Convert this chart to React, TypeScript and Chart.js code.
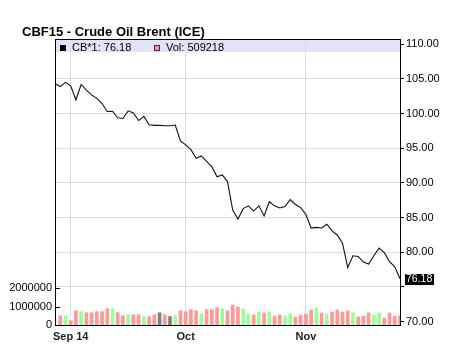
import React, { useEffect, useRef } from 'react';
import { Chart, registerables } from 'chart.js';

Chart.register(...registerables);

const title = 'CBF15 - Crude Oil Brent (ICE)';
const seriesName = 'CB*1';
const volumeName = 'Vol';
const lastPrice = 76.18;
const lastVolume = 509218;

const categories = [
  '', '', '', 'Sep 14', '', '', '', '', '', '',
  '', '', '', '', '', '', '', '', '', '',
  '', '', '', '', '', 'Oct', '', '', '', '',
  '', '', '', '', '', '', '', '', '', '',
  '', '', '', '', '', '', '', '', 'Nov', '',
  '', '', '', '', '', '', '', '', '', '',
  '', '', '', '', '', '', '',
];

const price = [
  104.3, 103.9, 104.5, 104.0, 102.0, 104.2, 103.4, 102.7, 102.2, 101.45,
  100.3, 100.35, 99.4, 99.3, 100.4, 100.1, 99.0, 99.6, 98.4, 98.3,
  98.3, 98.25, 98.25, 98.35, 96.05, 95.5, 94.8, 93.55, 93.9, 93.1,
  92.35, 90.9, 91.15, 90.2, 86.1, 84.8, 86.3, 86.7, 85.95, 86.7,
  85.25, 87.3, 86.7, 86.4, 86.6, 87.6, 86.9, 86.45, 85.45, 83.5,
  83.6, 83.5, 84.05, 83.1, 82.5, 81.3, 77.8, 79.5, 79.4, 78.6,
  78.3, 79.5, 80.6, 79.95, 78.65, 77.9, 76.18,
];

const volume: (number | null)[] = [
  null,
  510000, 510000, 240000, 780000, 730000, 670000, 670000, 730000, 730000, 890000,
  890000, 670000, 510000, 560000, 560000, 560000, 460000, 460000, 560000, 670000,
  560000, 460000, 510000, 780000, 730000, 840000, 780000, 620000, 840000, 840000,
  950000, 890000, 780000, 1090000, 980000, 870000, 600000, 550000, 710000, 660000,
  710000, 490000, 550000, 490000, 600000, 440000, 550000, 600000, 820000, 930000,
  660000, 600000, 710000, 820000, 710000, 760000, 660000, 440000, 490000, 660000,
  550000, 660000, 380000, 660000, 490000, 509218,
];

const priceTicks = [70, 75, 80, 85, 90, 95, 100, 105, 110];
const volumeTicks = [0, 1000000, 2000000];

const FONT = '"Liberation Sans", Arial, Helvetica, sans-serif';

export default function App() {
  const ref = useRef<HTMLCanvasElement>(null);

  useEffect(() => {
    const canvas = ref.current;
    if (!canvas) return;

    const barColors = volume.map((v, i) => {
      if (i === 0 || v == null) return 'transparent';
      const d = price[i] - price[i - 1];
      if (d > 0.001) return '#99ff99';
      if (d < -0.001) return '#ff9999';
      return '#808080';
    });

    const overlay = {
      id: 'overlay',
      beforeDraw(chart: any) {
        const { ctx, chartArea: a } = chart;
        ctx.save();
        ctx.fillStyle = '#ffffff';
        ctx.fillRect(0, 0, chart.width, chart.height);
        ctx.fillStyle = '#e2e2f8';
        ctx.fillRect(a.left, a.top, a.right - a.left, 13);
        ctx.restore();
      },
      afterDatasetsDraw(chart: any) {
        const { ctx, chartArea: a, scales } = chart;
        ctx.save();
        ctx.strokeStyle = '#000';
        ctx.lineWidth = 1;
        ctx.strokeRect(a.left + 0.5, a.top + 0.5, a.right - a.left, a.bottom - a.top);

        const yv = scales.yv;
        ctx.beginPath();
        volumeTicks.forEach((t) => {
          const y = Math.round(yv.getPixelForValue(t)) + 0.5;
          ctx.moveTo(a.left, y);
          ctx.lineTo(a.left + 5, y);
        });
        ctx.stroke();

        ctx.fillStyle = '#000';
        ctx.font = 'bold 13px ' + FONT;
        ctx.textBaseline = 'alphabetic';
        ctx.textAlign = 'left';
        ctx.fillText(title, 22, 36);

        ctx.font = '11px ' + FONT;
        ctx.fillStyle = '#000';
        ctx.fillRect(60, 45, 6, 6);
        ctx.fillText(seriesName + ': ' + lastPrice.toFixed(2), 72, 51);
        ctx.fillStyle = '#ff9999';
        ctx.fillRect(154, 45, 6, 6);
        ctx.strokeStyle = '#333';
        ctx.strokeRect(154.5, 45.5, 5, 5);
        ctx.fillStyle = '#000';
        ctx.fillText(volumeName + ': ' + String(lastVolume), 166, 51);

        const y = Math.round(scales.y.getPixelForValue(lastPrice));
        ctx.font = '10.5px ' + FONT;
        const w = ctx.measureText(lastPrice.toFixed(2)).width;
        ctx.fillStyle = '#000';
        ctx.fillRect(405, y - 5, Math.ceil(w) + 2, 11);
        ctx.fillStyle = '#fff';
        ctx.textBaseline = 'middle';
        ctx.fillText(lastPrice.toFixed(2), 406, y + 0.5);
        ctx.restore();
      },
    };

    const chart = new Chart(canvas, {
      type: 'bar',
      data: {
        labels: categories,
        datasets: [
          {
            type: 'line',
            label: seriesName,
            data: price,
            yAxisID: 'y',
            borderColor: '#111',
            borderWidth: 1.1,
            pointRadius: 0,
            tension: 0,
            order: 0,
          } as any,
          {
            type: 'bar',
            label: volumeName,
            data: volume,
            yAxisID: 'yv',
            backgroundColor: barColors,
            barThickness: 3,
            order: 1,
          } as any,
        ],
      },
      options: {
        responsive: false,
        devicePixelRatio: 1,
        animation: false,
        layout: { padding: { top: 39, left: 0, right: 0, bottom: 0 } },
        plugins: { legend: { display: false }, tooltip: { enabled: false }, title: { display: false } },
        scales: {
          x: {
            type: 'category',
            offset: false,
            border: { display: false },
            grid: {
              offset: false,
              drawTicks: false,
              tickLength: 0,
              color: (c: any) => (c.tick && c.tick.label ? '#dddddd' : 'transparent'),
            },
            ticks: {
              autoSkip: false,
              maxRotation: 0,
              padding: 5,
              color: '#222',
              font: { family: FONT, size: 11, weight: 'bold' },
            },
            afterFit: (s: any) => { s.height = 27; },
          },
          y: {
            type: 'linear',
            position: 'right',
            min: 69.52,
            max: 110.76,
            border: { display: false },
            grid: {
              color: (c: any) => (c.tick && c.tick.value === 110 ? 'transparent' : '#dddddd'),
              tickColor: '#000',
              tickLength: 4,
              drawTicks: true,
            },
            afterBuildTicks: (s: any) => { s.ticks = priceTicks.map((v) => ({ value: v })); },
            ticks: {
              padding: 2,
              color: '#000',
              font: { family: FONT, size: 11 },
              callback: (v: any) => (Number(v) === 75 ? '' : Number(v).toFixed(2)),
            },
            afterFit: (s: any) => { s.width = 62; },
          },
          yv: {
            type: 'linear',
            position: 'left',
            min: 0,
            max: 15630000,
            border: { display: false },
            grid: { display: false, drawTicks: false, tickLength: 0 },
            afterBuildTicks: (s: any) => { s.ticks = volumeTicks.map((v) => ({ value: v })); },
            ticks: {
              padding: 3,
              color: '#000',
              font: { family: FONT, size: 11 },
              callback: (v: any) => String(v),
            },
            afterFit: (s: any) => { s.width = 55; },
          },
        },
      } as any,
      plugins: [overlay],
    });

    return () => chart.destroy();
  }, []);

  return (
    <div style={{ position: 'absolute', left: 0, top: 0, width: 462, height: 352, background: '#fff' }}>
      <canvas ref={ref} width={462} height={352} style={{ display: 'block' }} />
    </div>
  );
}
